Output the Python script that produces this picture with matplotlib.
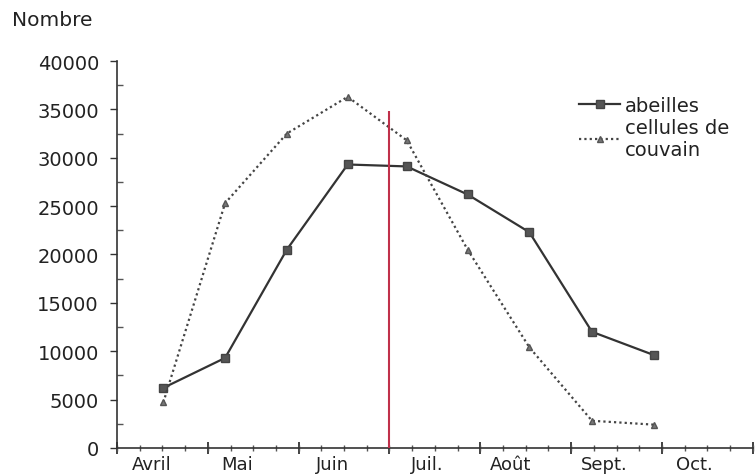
import matplotlib
matplotlib.use("Agg")
import matplotlib.pyplot as plt
from matplotlib.ticker import MultipleLocator, NullFormatter

# ---- data ----
months = ["Avril", "Mai", "Juin", "Juil.", "Août", "Sept.", "Oct."]
month_label_pos = [0.38, 1.32, 2.37, 3.42, 4.33, 5.37, 6.36]
month_bounds = [0, 1, 2, 3, 4, 5, 6, 7]
sample_x = [0.51, 1.19, 1.87, 2.54, 3.19, 3.86, 4.54, 5.23, 5.91]
abeilles = [6200, 9300, 20500, 29300, 29100, 26200, 22300, 12000, 9600]
couvain = [4700, 25300, 32500, 36300, 31800, 20500, 10400, 2800, 2400]
yticks = [0, 5000, 10000, 15000, 20000, 25000, 30000, 35000, 40000]
red_line_x = 3.0
red_line_top = 34800

plt.rcParams['font.family'] = ['DejaVu Sans']
fig = plt.figure(figsize=(7.55, 4.77), dpi=100)
ax = fig.add_axes([0.155, 0.059, 0.842, 0.811])

ax.plot(sample_x, abeilles, color='#333333', lw=1.6, marker='s', markersize=6,
        markerfacecolor='#555555', markeredgecolor='#444444', label='abeilles')
ax.plot(sample_x, couvain, color='#444444', lw=1.6, linestyle=(0, (1, 1.4)),
        marker='^', markersize=5, markerfacecolor='#777777', markeredgecolor='#555555',
        label='cellules de\ncouvain')
ax.vlines(red_line_x, 0, red_line_top, color='#c0304a', lw=1.5, zorder=3)

ax.set_xlim(0, 7)
ax.set_ylim(0, 40000)
for s in ['top', 'right']:
    ax.spines[s].set_visible(False)
for s in ['left', 'bottom']:
    ax.spines[s].set_color('#333333')
    ax.spines[s].set_linewidth(1.2)

ax.set_yticks(yticks)
ax.set_yticklabels([str(v) for v in yticks])
ax.yaxis.set_minor_locator(MultipleLocator(2500))
ax.tick_params(axis='y', which='major', direction='out', length=5, width=1,
               pad=8, labelsize=14, colors='#333333', labelcolor='#222222')
ax.tick_params(axis='y', which='minor', direction='in', length=4, width=1, colors='#555555')

ax.set_xticks(month_label_pos)
ax.set_xticklabels(months)
ax.xaxis.set_minor_locator(MultipleLocator(0.25))
ax.tick_params(axis='x', which='major', length=0, pad=5, labelsize=13, labelcolor='#222222')
ax.tick_params(axis='x', which='minor', direction='inout', length=5, width=1, colors='#555555')

sec = ax.secondary_xaxis(0)
sec.set_xticks(month_bounds)
sec.xaxis.set_major_formatter(NullFormatter())
sec.tick_params(direction='inout', length=9, width=1.3, colors='#333333')
sec.spines['bottom'].set_visible(False)

leg = ax.legend(loc='upper left', bbox_to_anchor=(0.727, 0.91), frameon=False,
                fontsize=14, handlelength=2.1, handletextpad=0.25, labelspacing=0.15,
                borderaxespad=0, borderpad=0)
for t in leg.get_texts():
    t.set_color('#222222')

fig.text(0.016, 1 - 20 / 477, 'Nombre', ha='left', va='center', fontsize=14.5, color='#222222')

fig.savefig('out.png', dpi=100, facecolor='white')
